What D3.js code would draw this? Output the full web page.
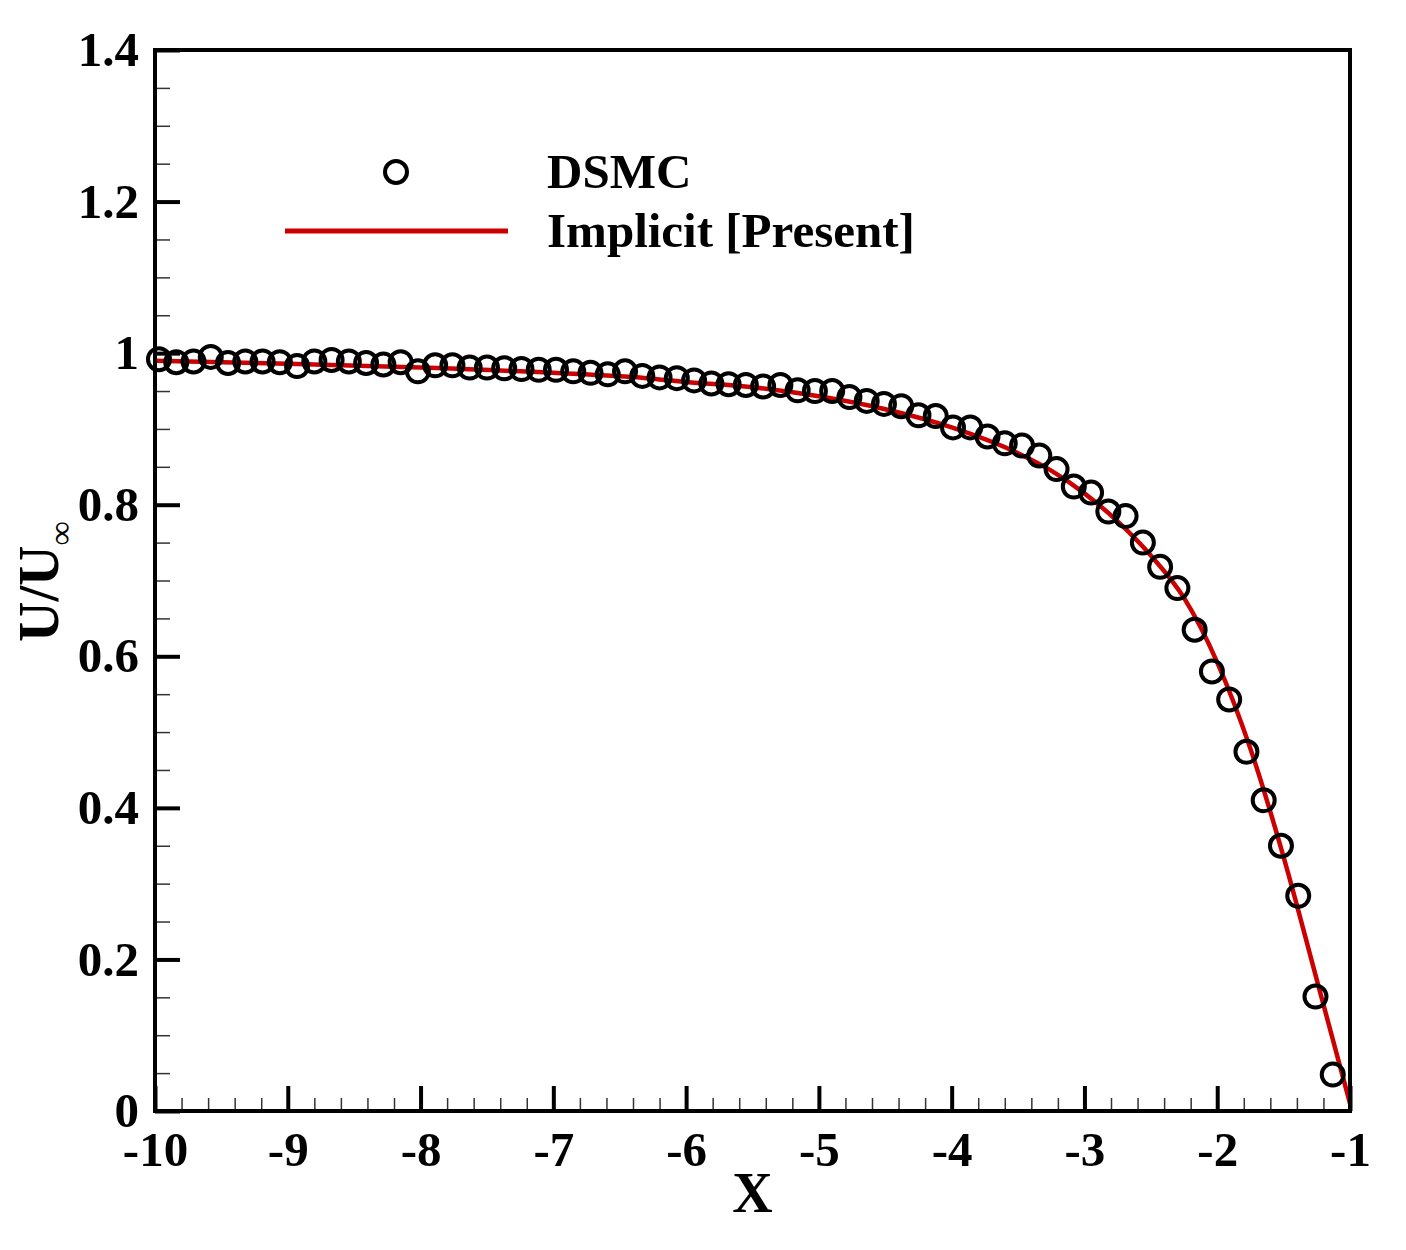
<!DOCTYPE html>
<html>
<head>
<meta charset="utf-8">
<script src="https://cdn.jsdelivr.net/npm/d3@7"></script>
<style>
    body { margin: 0; background: #ffffff; }
    svg text { font-family: "Liberation Serif", "Times New Roman", serif; font-weight: bold; fill: #000; }
</style>
</head>
<body>
<div id="chart"></div>
<script>
// DSMC samples
var dsmcX = [-9.97, -9.84, -9.71, -9.58, -9.45, -9.32, -9.19, -9.06, -8.93, -8.80,
             -8.67, -8.54, -8.41, -8.28, -8.15, -8.02, -7.89, -7.76, -7.63, -7.50,
             -7.37, -7.24, -7.11, -6.98, -6.85, -6.72, -6.59, -6.46, -6.33, -6.20,
             -6.07, -5.94, -5.81, -5.68, -5.55, -5.42, -5.29, -5.16, -5.03, -4.90,
             -4.77, -4.64, -4.51, -4.38, -4.25, -4.12, -3.99, -3.86, -3.73, -3.60,
             -3.47, -3.34, -3.21, -3.08, -2.95, -2.82, -2.69, -2.56, -2.43, -2.30,
             -2.17, -2.04, -1.91, -1.78, -1.65, -1.52, -1.39, -1.26, -1.13];
var dsmcU = [0.992, 0.988, 0.989, 0.995, 0.987, 0.989, 0.989, 0.988, 0.983, 0.989,
             0.991, 0.989, 0.987, 0.985, 0.988, 0.976, 0.984, 0.984, 0.981, 0.981,
             0.980, 0.979, 0.978, 0.978, 0.976, 0.974, 0.972, 0.976, 0.970, 0.968,
             0.967, 0.964, 0.960, 0.959, 0.958, 0.956, 0.958, 0.951, 0.950, 0.950,
             0.942, 0.937, 0.933, 0.930, 0.918, 0.917, 0.902, 0.902, 0.890, 0.881,
             0.878, 0.865, 0.847, 0.824, 0.816, 0.791, 0.785, 0.750, 0.718, 0.690,
             0.635, 0.580, 0.543, 0.474, 0.410, 0.350, 0.284, 0.151, 0.048];

// implicit solver curve
var implicitX = [-10, -9, -8, -7, -6.3, -6, -5.5, -5, -4.5, -4, -3.5, -3.25, -3,
                 -2.75, -2.5, -2.25, -2, -1.75, -1.5, -1.25, -1];
var implicitU = [0.990, 0.986, 0.981, 0.974, 0.967, 0.962, 0.955, 0.943, 0.926, 0.902,
                 0.868, 0.845, 0.815, 0.778, 0.733, 0.677, 0.592, 0.478, 0.335, 0.173, 0.010];

var xMajor = [-10, -9, -8, -7, -6, -5, -4, -3, -2, -1];
var xMinor = d3.range(-100, -9, 2).map(function(v){ return v / 10; });
var yMajor = [0, 0.2, 0.4, 0.6, 0.8, 1, 1.2, 1.4];
var yMinor = d3.range(0, 141, 5).map(function(v){ return v / 100; });

var width = 1406, height = 1250;
var margin = {top: 50, right: 56, bottom: 139, left: 155};
var w = width - margin.left - margin.right;
var h = height - margin.top - margin.bottom;

var x = d3.scaleLinear().domain([-10, -1]).range([0, w]);
var y = d3.scaleLinear().domain([0, 1.4]).range([h, 0]);

var svg = d3.select('#chart').append('svg')
    .attr('width', width)
    .attr('height', height);

var g = svg.append('g')
    .attr('transform', 'translate(' + margin.left + ',' + margin.top + ')');

// minor ticks
g.append('g')
    .attr('transform', 'translate(0,' + h + ')')
    .call(d3.axisBottom(x).tickValues(xMinor).tickSize(-13).tickFormat(''))
    .call(function(s){
        s.select('.domain').remove();
        s.selectAll('line').attr('stroke', '#333').attr('stroke-width', 1.5);
    });
g.append('g')
    .call(d3.axisLeft(y).tickValues(yMinor).tickSize(-15).tickFormat(''))
    .call(function(s){
        s.select('.domain').remove();
        s.selectAll('line').attr('stroke', '#333').attr('stroke-width', 1.5);
    });

// major ticks with labels (plain hyphen as in the original)
g.append('g')
    .attr('transform', 'translate(0,' + h + ')')
    .call(d3.axisBottom(x).tickValues(xMajor).tickSize(-25).tickPadding(20)
        .tickFormat(function(d){ return String(d); }))
    .call(function(s){
        s.select('.domain').remove();
        s.selectAll('line').attr('stroke', '#000').attr('stroke-width', 4);
        s.selectAll('text').style('font-size', '49px');
    });
g.append('g')
    .call(d3.axisLeft(y).tickValues(yMajor).tickSize(-25).tickPadding(16)
        .tickFormat(function(d){ return d === 0 || d === 1 ? String(d) : d3.format('.1f')(d); }))
    .call(function(s){
        s.select('.domain').remove();
        s.selectAll('line').attr('stroke', '#000').attr('stroke-width', 4);
        s.selectAll('text').style('font-size', '49px');
    });

// implicit curve
var line = d3.line()
    .x(function(d){ return x(d[0]); })
    .y(function(d){ return y(d[1]); })
    .curve(d3.curveMonotoneX);

g.append('path')
    .datum(d3.zip(implicitX, implicitU))
    .attr('d', line)
    .attr('fill', 'none')
    .attr('stroke', '#cc0000')
    .attr('stroke-width', 4.5);

// DSMC circles
g.selectAll('circle.dsmc').data(d3.zip(dsmcX, dsmcU))
    .enter()
        .append('circle')
        .attr('class', 'dsmc')
        .attr('cx', function(d){ return x(d[0]); })
        .attr('cy', function(d){ return y(d[1]); })
        .attr('r', 11)
        .attr('fill', 'none')
        .attr('stroke', '#000')
        .attr('stroke-width', 4);

// frame
g.append('rect')
    .attr('width', w)
    .attr('height', h)
    .attr('fill', 'none')
    .attr('stroke', '#000')
    .attr('stroke-width', 4);

// legend
var legend = svg.append('g');
legend.append('circle')
    .attr('cx', 396).attr('cy', 172).attr('r', 11)
    .attr('fill', 'none').attr('stroke', '#000').attr('stroke-width', 4);
legend.append('text')
    .attr('x', 547).attr('y', 188)
    .style('font-size', '49px')
    .text('DSMC');
legend.append('line')
    .attr('x1', 285).attr('x2', 508).attr('y1', 231).attr('y2', 231)
    .attr('stroke', '#cc0000').attr('stroke-width', 5);
legend.append('text')
    .attr('x', 547).attr('y', 247)
    .style('font-size', '49px')
    .text('Implicit [Present]');

// axis titles
svg.append('text')
    .attr('x', margin.left + w / 2).attr('y', 1212)
    .attr('text-anchor', 'middle')
    .style('font-size', '56px')
    .text('X');

var yTitle = svg.append('text')
    .attr('transform', 'translate(58,642) rotate(-90)')
    .style('font-size', '56px');
yTitle.append('tspan').text('U/U');
yTitle.append('tspan')
    .attr('dy', 14)
    .style('font-size', '34px')
    .style('font-weight', 'normal')
    .text('∞');
</script>
</body>
</html>
